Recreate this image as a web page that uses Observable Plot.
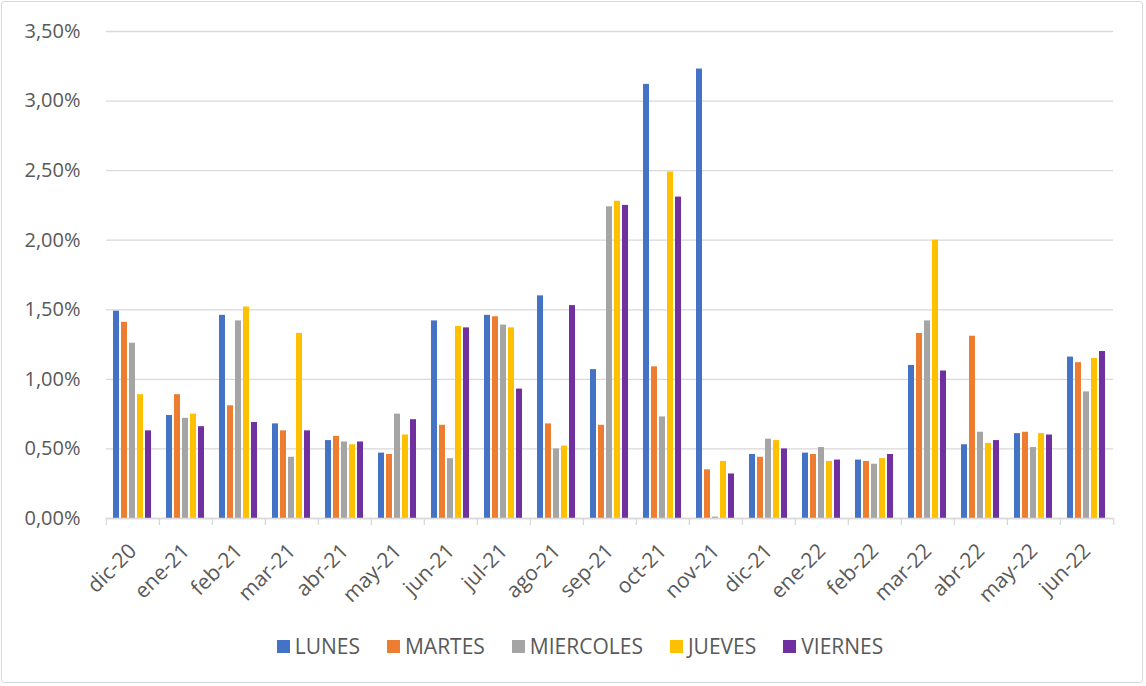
<!DOCTYPE html>
<html><head><meta charset="utf-8">
<script src="https://cdn.jsdelivr.net/npm/d3@7"></script>
<script src="https://cdn.jsdelivr.net/npm/@observablehq/plot@0.6"></script>
<style>
html,body{margin:0;padding:0;background:#fff;}
#chart{position:relative;width:1142px;height:682px;border:1px solid #d9d9d9;border-radius:3px;margin:1px;box-sizing:border-box;font-family:"Open Sans",sans-serif;color:#595959;}
#plot{position:absolute;left:0;top:0;}
#legend{position:absolute;left:16px;right:0;top:630px;height:28px;display:flex;justify-content:center;align-items:center;gap:27px;font-size:21px;line-height:28px;}
#legend .item{display:flex;align-items:center;gap:5px;}
#legend .sw{width:13px;height:13px;display:inline-block;}
</style></head>
<body><div id="chart"><div id="plot"></div><div id="legend"></div></div>
<script>
const months = ["dic-20","ene-21","feb-21","mar-21","abr-21","may-21","jun-21","jul-21","ago-21","sep-21","oct-21","nov-21","dic-21","ene-22","feb-22","mar-22","abr-22","may-22","jun-22"];
const days = ["LUNES","MARTES","MIERCOLES","JUEVES","VIERNES"];
const colors = ["#4472C4","#ED7D31","#A5A5A5","#FFC000","#7030A0"];
// values in percent
const lunes     = [1.49,0.74,1.46,0.68,0.56,0.47,1.42,1.46,1.60,1.07,3.12,3.23,0.46,0.47,0.42,1.10,0.53,0.61,1.16];
const martes    = [1.41,0.89,0.81,0.63,0.59,0.46,0.67,1.45,0.68,0.67,1.09,0.35,0.44,0.46,0.41,1.33,1.31,0.62,1.12];
const miercoles = [1.26,0.72,1.42,0.44,0.55,0.75,0.43,1.39,0.50,2.24,0.73,0.01,0.57,0.51,0.39,1.42,0.62,0.51,0.91];
const jueves    = [0.89,0.75,1.52,1.33,0.53,0.60,1.38,1.37,0.52,2.28,2.49,0.41,0.56,0.41,0.43,2.00,0.54,0.61,1.15];
const viernes   = [0.63,0.66,0.69,0.63,0.55,0.71,1.37,0.93,1.53,2.25,2.31,0.32,0.50,0.42,0.46,1.06,0.56,0.60,1.20];
const yTicks = [0,0.5,1,1.5,2,2.5,3,3.5];

const series = [lunes, martes, miercoles, jueves, viernes];
const data = months.flatMap((m, i) => days.map((d, j) => ({month: m, day: d, value: series[j][i]})));
const fmt = v => v.toFixed(2).replace(".", ",") + "%";

const W = 1140, H = 600, ML = 101, MR = 26;
const step = (W - ML - MR) / months.length;
const grey = "#d9d9d9";
const font = "'Open Sans', sans-serif";

const plot = Plot.plot({
  width: W, height: H,
  marginTop: 29, marginBottom: 84, marginLeft: ML, marginRight: MR,
  style: {fontFamily: font, fontSize: "20px", color: "#595959", background: "transparent", overflow: "visible"},
  fx: {domain: months, padding: 0, label: null},
  x: {domain: days, paddingInner: 0.2, paddingOuter: 0.88, axis: null},
  y: {domain: [0, 3.5], label: null},
  color: {domain: days, range: colors},
  marks: [
    Plot.gridY(yTicks, {stroke: grey, strokeOpacity: 1, strokeWidth: 1.3}),
    Plot.axisY(yTicks, {tickFormat: fmt, tickSize: 0, tickPadding: 26, label: null, fill: "#595959", fontSize: 20}),
    Plot.barY(data, {fx: "month", x: "day", y: "value", fill: "day"}),
    Plot.ruleY([0], {stroke: grey, strokeWidth: 1.3}),
    Plot.axisFx({anchor: "bottom", tickSize: 0, tickRotate: -45, tickPadding: 29, label: null, fill: "#595959", fontSize: 21}),
    Plot.axisFx({anchor: "bottom", tickSize: 7, text: null, label: null, stroke: grey, strokeWidth: 1.3, dx: -step / 2}),
    Plot.axisFx({anchor: "bottom", ticks: [months[months.length - 1]], tickSize: 7, text: null, label: null, stroke: grey, strokeWidth: 1.3, dx: step / 2})
  ]
});
document.getElementById("plot").appendChild(plot);

const legend = document.getElementById("legend");
days.forEach((d, i) => {
  const item = document.createElement("span");
  item.className = "item";
  const sw = document.createElement("span");
  sw.className = "sw";
  sw.style.background = colors[i];
  const t = document.createElement("span");
  t.textContent = d;
  item.appendChild(sw); item.appendChild(t);
  legend.appendChild(item);
});
</script>
</body></html>
